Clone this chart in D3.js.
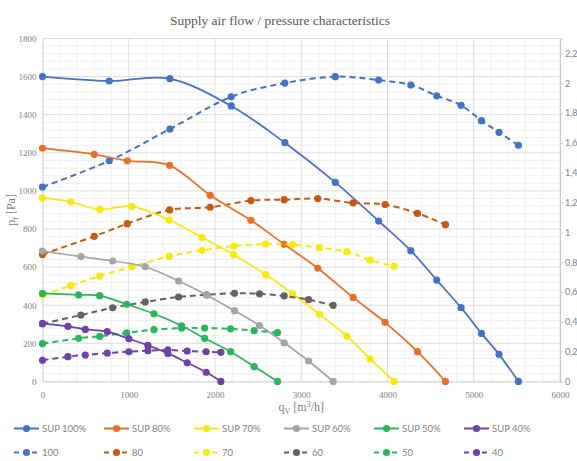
<!DOCTYPE html>
<html><head><meta charset="utf-8">
<script src="https://cdn.jsdelivr.net/npm/d3@7"></script>
<style>
html,body{margin:0;padding:0;background:#fff;}
svg{display:block;}
</style></head>
<body>
<svg id="chart" width="577" height="461"></svg>
<script>
// ---- DATA ----
const xTicks = [0,1000,2000,3000,4000,5000,6000];
const yTicks = [0,200,400,600,800,1000,1200,1400,1600,1800];
const y2Ticks = [0,0.2,0.4,0.6,0.8,1,1.2,1.4,1.6,1.8,2,2.2];

// SUP 100%
const q100 = [0,774,1477,2188,2810,3395,3897,4270,4571,4853,5089,5293,5518];
const p100 = [1600,1577,1589,1446,1253,1045,842,686,532,387,252,142,0];
const e100 = [1.304,1.480,1.693,1.909,2.001,2.044,2.021,1.988,1.916,1.852,1.749,1.671,1.584];
// SUP 80%
const q80 = [0,600,983,1474,1944,2416,2802,3192,3601,3972,4348,4672];
const p80 = [1224,1192,1158,1134,977,846,720,594,441,310,156,0];
const e80 = [0.852,0.973,1.058,1.150,1.168,1.213,1.219,1.226,1.197,1.186,1.127,1.051];
// SUP 70%
const q70 = [0,327,663,1037,1469,1848,2219,2588,2899,3212,3528,3798,4076];
const p70 = [963,942,903,919,847,756,665,561,460,352,238,118,0];
const e70 = [0.579,0.642,0.707,0.769,0.839,0.879,0.908,0.921,0.917,0.897,0.870,0.814,0.772];
// SUP 60%
const q60 = [0,446,813,1191,1578,1903,2227,2516,2802,3085,3370];
const p60 = [684,655,632,602,527,454,371,293,203,107,0];
const e60 = [0.387,0.445,0.494,0.533,0.566,0.581,0.591,0.588,0.573,0.548,0.510];
// SUP 50%
const q50 = [0,419,663,976,1292,1613,1880,2181,2454,2725];
const p50 = [462,454,450,405,355,292,226,156,78,0];
const e50 = [0.253,0.289,0.302,0.325,0.347,0.358,0.358,0.353,0.340,0.327];
// SUP 40%
const q40 = [0,295,496,751,1002,1222,1454,1678,1898,2068];
const p40 = [303,289,273,261,224,189,147,98,48,0];
const e40 = [0.142,0.166,0.177,0.190,0.199,0.206,0.211,0.204,0.199,0.195];

const solidNames = ["SUP 100%","SUP 80%","SUP 70%","SUP 60%","SUP 50%","SUP 40%"];
const dashNames = ["100","80","70","60","50","40"];
const solidColors = ["#4472C4","#E8702A","#F5EA0F","#A5A5A5","#2DB55C","#6F42A6"];
const dashColors  = ["#4472C4","#C55A11","#F5EA0F","#636363","#2DB55C","#6F42A6"];
const qs = [q100,q80,q70,q60,q50,q40];
const ps = [p100,p80,p70,p60,p50,p40];
const es = [e100,e80,e70,e60,e50,e40];

// ---- LAYOUT ----
const svg = d3.select("#chart");
const L = 42.5, R = 560, T = 38.5, B = 381.4;
const x = d3.scaleLinear().domain([0,6000]).range([L,R]);
const y = d3.scaleLinear().domain([0,1800]).range([B,T]);
const y2 = d3.scaleLinear().domain([0,2.3]).range([B,T]);
const serif = "'Liberation Serif','Times New Roman',serif";
const sans = "Lato,'Liberation Sans',sans-serif";

// minor grid
const g = svg.append("g");
d3.range(0,6001,200).forEach(v=>{ if(v%1000) g.append("line").attr("x1",x(v)).attr("x2",x(v)).attr("y1",T).attr("y2",B).attr("stroke","#F0F0F0").attr("stroke-width",1);});
d3.range(0,1801,40).forEach(v=>{ if(v%200) g.append("line").attr("x1",L).attr("x2",R).attr("y1",y(v)).attr("y2",y(v)).attr("stroke","#F0F0F0").attr("stroke-width",1);});
// major grid
xTicks.forEach(v=>{ if(v>0) g.append("line").attr("x1",x(v)).attr("x2",x(v)).attr("y1",T).attr("y2",B).attr("stroke","#DDDDDD").attr("stroke-width",1);});
yTicks.forEach(v=>{ if(v>0) g.append("line").attr("x1",L).attr("x2",R).attr("y1",y(v)).attr("y2",y(v)).attr("stroke","#DDDDDD").attr("stroke-width",1);});

// axes
const axL = svg.append("g").attr("transform",`translate(${L},0)`)
  .call(d3.axisLeft(y).tickValues(yTicks).tickSize(0).tickPadding(6).tickFormat(d3.format("d")));
const axB = svg.append("g").attr("transform",`translate(0,${B})`)
  .call(d3.axisBottom(x).tickValues(xTicks).tickSize(0).tickPadding(10).tickFormat(d3.format("d")));
const axR = svg.append("g").attr("transform",`translate(${R},0)`)
  .call(d3.axisRight(y2).tickValues(y2Ticks).tickSize(3).tickPadding(2)
    .tickFormat(d=> d===0 ? "0" : String(+d.toFixed(1)).replace(".",",")));
[axL,axB].forEach(a=>{a.selectAll("text").attr("font-family",serif).attr("font-size",9).attr("fill","#808080");});
axR.selectAll("text").attr("font-family",sans).attr("font-size",9).attr("fill","#808080");
[axL,axB,axR].forEach(a=>{a.select(".domain").attr("stroke","#C8C8C8");a.selectAll(".tick line").attr("stroke","#C8C8C8");});

// lines
const curve = d3.curveCatmullRom.alpha(0);
const lineL = d3.line().x(d=>x(d[0])).y(d=>y(d[1])).curve(curve);
const lineR = d3.line().x(d=>x(d[0])).y(d=>y2(d[1])).curve(curve);
const plot = svg.append("g");
for(let i=0;i<6;i++){
  const sd = qs[i].map((q,j)=>[q,ps[i][j]]);
  const ed = qs[i].map((q,j)=>[q,es[i][j]]);
  plot.append("path").attr("d",lineR(ed)).attr("fill","none").attr("stroke",dashColors[i]).attr("stroke-width",2).attr("stroke-dasharray","6,4");
  plot.selectAll(null).data(ed).enter().append("circle").attr("cx",d=>x(d[0])).attr("cy",d=>y2(d[1])).attr("r",3.6).attr("fill",dashColors[i]);
  plot.append("path").attr("d",lineL(sd)).attr("fill","none").attr("stroke",solidColors[i]).attr("stroke-width",1.75);
  plot.selectAll(null).data(sd).enter().append("circle").attr("cx",d=>x(d[0])).attr("cy",d=>y(d[1])).attr("r",3.6).attr("fill",solidColors[i]);
}

// title
svg.append("text").attr("x",280).attr("y",25).attr("text-anchor","middle")
  .attr("font-family",serif).attr("font-size",13.5).attr("fill","#595959").text("Supply air flow / pressure characteristics");
// y label
const yl = svg.append("text").attr("transform",`translate(15,${(T+B)/2}) rotate(-90)`).attr("text-anchor","middle")
  .attr("font-family",serif).attr("font-size",12).attr("fill","#808080");
yl.append("tspan").text("p");
yl.append("tspan").attr("font-size",8).attr("dy",3).text("f");
yl.append("tspan").attr("dy",-3).text(" [Pa]");
// x label
const xl = svg.append("text").attr("x",(L+R)/2).attr("y",411).attr("text-anchor","middle")
  .attr("font-family",serif).attr("font-size",12).attr("fill","#808080");
xl.append("tspan").text("q");
xl.append("tspan").attr("font-size",8).attr("dy",3).text("V");
xl.append("tspan").attr("dy",-3).text(" [m");
xl.append("tspan").attr("font-size",8).attr("dy",-4).text("3");
xl.append("tspan").attr("dy",4).text("/h]");

// legend
const leg = svg.append("g");
for(let i=0;i<6;i++){
  const lx = 14 + i*90;
  [[428.5,solidNames[i],solidColors[i],null],[452.5,dashNames[i],dashColors[i],"5,4"]].forEach(([ly,name,col,dash])=>{
    const ln = leg.append("line").attr("x1",lx).attr("x2",lx+25).attr("y1",ly).attr("y2",ly).attr("stroke",col).attr("stroke-width",2);
    if(dash) ln.attr("stroke-dasharray",dash);
    leg.append("circle").attr("cx",lx+12.5).attr("cy",ly).attr("r",3.6).attr("fill",col);
    leg.append("text").attr("x",lx+28).attr("y",ly+3.2).attr("font-family",sans).attr("font-size",9.5).attr("fill","#7F7F7F").text(name);
  });
}
</script>
</body></html>
